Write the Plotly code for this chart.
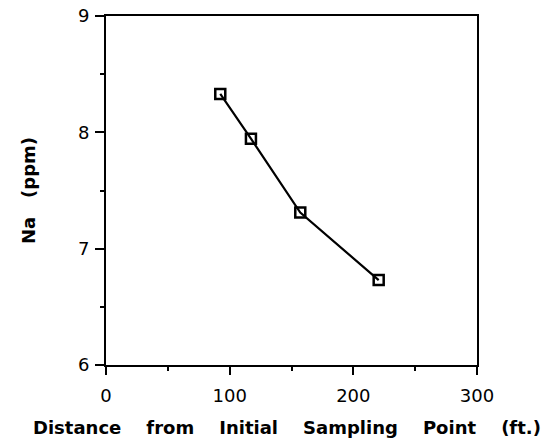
import plotly.graph_objects as go

distance_ft = [92.4, 117.2, 157.1, 220.5]
na_ppm = [8.33, 7.945, 7.31, 6.73]

x_tick_vals = [0, 100, 200, 300]
y_tick_vals = [6, 7, 8, 9]
x_minor = [50, 150, 250]
y_minor = [6.5, 7.5, 8.5]

x_title = "Distance    from    Initial    Sampling    Point    (ft.)"
y_title = "Na   (ppm)"

fig = go.Figure()
fig.add_trace(go.Scatter(
    x=distance_ft, y=na_ppm, mode="lines+markers",
    line=dict(color="black", width=2.2),
    marker=dict(symbol="square-open", size=10, color="black", line=dict(width=2.5)),
    showlegend=False,
))

font = "DejaVu Sans, Liberation Sans, Arial, sans-serif"
fig.update_layout(
    width=546, height=446,
    margin=dict(l=106, r=69, t=16, b=81),
    plot_bgcolor="white", paper_bgcolor="white",
    font=dict(family=font, color="black"),
    xaxis=dict(
        range=[0, 300], tickvals=x_tick_vals, ticks="outside", ticklen=8, tickwidth=2,
        minor=dict(tickvals=x_minor, ticks="outside", ticklen=4, tickcolor="black", tickwidth=2),
        showline=True, linecolor="black", linewidth=2, mirror=True, showgrid=False,
        zeroline=False, tickfont=dict(size=18, family=font), tickcolor="black",
        automargin=False, ticklabelstandoff=5,
    ),
    yaxis=dict(
        range=[6, 9], tickvals=y_tick_vals, ticks="outside", ticklen=9, tickwidth=2,
        minor=dict(tickvals=y_minor, ticks="outside", ticklen=4, tickcolor="black", tickwidth=2),
        showline=True, linecolor="black", linewidth=2, mirror=True, showgrid=False,
        zeroline=False, tickfont=dict(size=18, family=font), tickcolor="black",
        automargin=False, ticklabelstandoff=2, ticklabeloverflow="allow",
        title=dict(text="<b>" + y_title + "</b>", font=dict(size=18, family=font), standoff=38),
    ),
    annotations=[dict(
        text="<b>" + x_title + "</b>", xref="paper", yref="paper", x=0.5, y=0,
        xanchor="center", yanchor="middle", xshift=-5, yshift=-62, showarrow=False,
        font=dict(size=18, family=font, color="black"),
    )],
)
fig.write_html("out.html", config={"displayModeBar": False},
               post_script="document.body.style.margin='0';")
